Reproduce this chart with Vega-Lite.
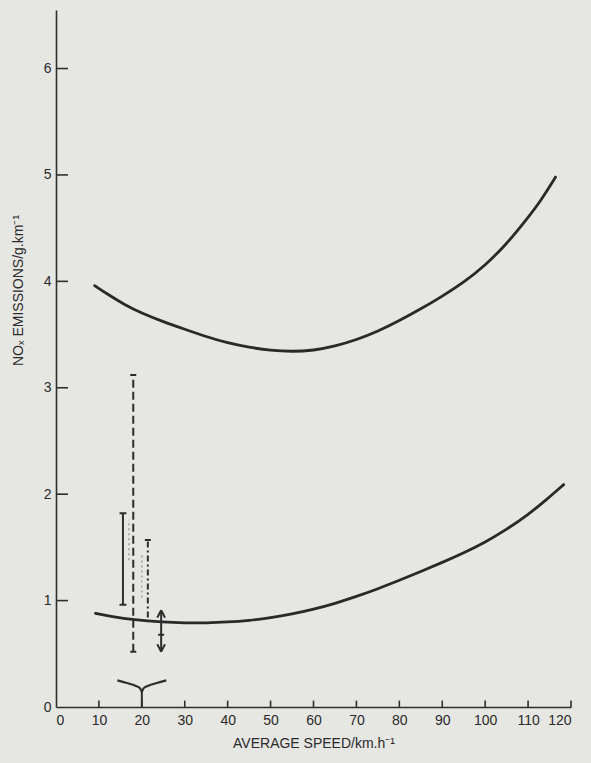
{
  "$schema": "https://vega.github.io/schema/vega-lite/v6.json",
  "width": 515,
  "height": 697,
  "autosize": {"type": "none"},
  "padding": {"left": 56, "top": 10, "right": 20, "bottom": 56},
  "background": "#e6e6e3",
  "config": {
    "view": {"stroke": null},
    "font": "Liberation Sans",
    "axis": {
      "grid": false,
      "ticks": false,
      "domainColor": "#2e302f",
      "domainWidth": 1.6,
      "labelColor": "#2a2a2a",
      "labelFontSize": 14,
      "labelFont": "Liberation Sans",
      "titleFont": "Liberation Sans",
      "titleFontSize": 14,
      "titleFontWeight": "normal",
      "titleColor": "#2a2a2a"
    }
  },
  "datasets": {
    "curves": [
      {"s": 9, "v": 3.96, "c": "upper"}, {"s": 12, "v": 3.88, "c": "upper"}, {"s": 16, "v": 3.78, "c": "upper"},
      {"s": 20, "v": 3.7, "c": "upper"}, {"s": 25, "v": 3.62, "c": "upper"}, {"s": 30, "v": 3.55, "c": "upper"},
      {"s": 35, "v": 3.48, "c": "upper"}, {"s": 40, "v": 3.42, "c": "upper"}, {"s": 45, "v": 3.38, "c": "upper"},
      {"s": 50, "v": 3.35, "c": "upper"}, {"s": 55, "v": 3.34, "c": "upper"}, {"s": 60, "v": 3.35, "c": "upper"},
      {"s": 65, "v": 3.39, "c": "upper"}, {"s": 70, "v": 3.45, "c": "upper"}, {"s": 75, "v": 3.53, "c": "upper"},
      {"s": 80, "v": 3.63, "c": "upper"}, {"s": 85, "v": 3.74, "c": "upper"}, {"s": 90, "v": 3.86, "c": "upper"},
      {"s": 95, "v": 3.99, "c": "upper"}, {"s": 100, "v": 4.15, "c": "upper"}, {"s": 105, "v": 4.35, "c": "upper"},
      {"s": 110, "v": 4.6, "c": "upper"}, {"s": 113, "v": 4.76, "c": "upper"}, {"s": 116.4, "v": 4.98, "c": "upper"},
      {"s": 9.2, "v": 0.88, "c": "lower"}, {"s": 13, "v": 0.85, "c": "lower"}, {"s": 18, "v": 0.82, "c": "lower"},
      {"s": 25, "v": 0.797, "c": "lower"}, {"s": 30, "v": 0.79, "c": "lower"}, {"s": 35, "v": 0.79, "c": "lower"},
      {"s": 40, "v": 0.798, "c": "lower"}, {"s": 45, "v": 0.813, "c": "lower"}, {"s": 50, "v": 0.838, "c": "lower"},
      {"s": 55, "v": 0.873, "c": "lower"}, {"s": 60, "v": 0.918, "c": "lower"}, {"s": 65, "v": 0.973, "c": "lower"},
      {"s": 70, "v": 1.038, "c": "lower"}, {"s": 75, "v": 1.11, "c": "lower"}, {"s": 80, "v": 1.19, "c": "lower"},
      {"s": 85, "v": 1.273, "c": "lower"}, {"s": 90, "v": 1.358, "c": "lower"}, {"s": 95, "v": 1.448, "c": "lower"},
      {"s": 100, "v": 1.548, "c": "lower"}, {"s": 105, "v": 1.668, "c": "lower"}, {"s": 110, "v": 1.808, "c": "lower"},
      {"s": 114, "v": 1.938, "c": "lower"}, {"s": 118.3, "v": 2.09, "c": "lower"}
    ],
    "xticks": [{"t": 10}, {"t": 20}, {"t": 30}, {"t": 40}, {"t": 50}, {"t": 60}, {"t": 70}, {"t": 80}, {"t": 90}, {"t": 100}, {"t": 110}, {"t": 120}],
    "yticks": [{"t": 1}, {"t": 2}, {"t": 3}, {"t": 4}, {"t": 5}, {"t": 6}],
    "segs": [
      {"x1": 15.6, "x2": 15.6, "y1": 0.96, "y2": 1.82, "k": "solid"},
      {"x1": 14.8, "x2": 16.4, "y1": 1.82, "y2": 1.82, "k": "solid"},
      {"x1": 14.8, "x2": 16.4, "y1": 0.96, "y2": 0.96, "k": "solid"},
      {"x1": 18, "x2": 18, "y1": 0.52, "y2": 3.12, "k": "dashed"},
      {"x1": 17.3, "x2": 18.7, "y1": 3.12, "y2": 3.12, "k": "solid"},
      {"x1": 17.3, "x2": 18.7, "y1": 0.52, "y2": 0.52, "k": "solid"},
      {"x1": 21.4, "x2": 21.4, "y1": 0.84, "y2": 1.57, "k": "dashdot"},
      {"x1": 20.7, "x2": 22.1, "y1": 1.57, "y2": 1.57, "k": "solid"},
      {"x1": 24.5, "x2": 24.5, "y1": 0.53, "y2": 0.9, "k": "solid"},
      {"x1": 23.6, "x2": 24.5, "y1": 0.84, "y2": 0.91, "k": "solid"},
      {"x1": 25.4, "x2": 24.5, "y1": 0.84, "y2": 0.91, "k": "solid"},
      {"x1": 23.6, "x2": 24.5, "y1": 0.59, "y2": 0.52, "k": "solid"},
      {"x1": 25.4, "x2": 24.5, "y1": 0.59, "y2": 0.52, "k": "solid"},
      {"x1": 23.8, "x2": 25.2, "y1": 0.68, "y2": 0.68, "k": "solid"},
      {"x1": 20, "x2": 20, "y1": 0, "y2": 0.15, "k": "solid"}
    ],
    "faint": [
      {"x1": 17, "x2": 17, "y1": 1.38, "y2": 1.76},
      {"x1": 20, "x2": 20, "y1": 1.03, "y2": 1.45}
    ],
    "brace": [
      {"s": 14.3, "v": 0.25, "o": 1}, {"s": 16.5, "v": 0.225, "o": 2}, {"s": 18.5, "v": 0.2, "o": 3},
      {"s": 19.6, "v": 0.175, "o": 4}, {"s": 20, "v": 0.145, "o": 5}, {"s": 20.4, "v": 0.175, "o": 6},
      {"s": 21.5, "v": 0.2, "o": 7}, {"s": 23.5, "v": 0.225, "o": 8}, {"s": 25.7, "v": 0.25, "o": 9}
    ]
  },
  "layer": [
    {
      "data": {"name": "curves"},
      "mark": {"type": "line", "interpolate": "basis", "stroke": "#262a29", "strokeWidth": 2.8, "strokeCap": "round"},
      "encoding": {
        "x": {"field": "s", "type": "quantitative", "scale": {"domain": [0, 120], "nice": false},
          "axis": {"values": [0,10,20,30,40,50,60,70,80,90,100,110,120], "format": "d", "labelPadding": 6, "title": "AVERAGE SPEED/km.h⁻¹", "titlePadding": 9}},
        "y": {"field": "v", "type": "quantitative", "scale": {"domain": [0, 6.55], "nice": false},
          "axis": {"values": [0,1,2,3,4,5,6], "format": "d", "labelPadding": 5, "title": "NOₓ EMISSIONS/g.km⁻¹", "titleX": -31, "titleY": 280}},
        "detail": {"field": "c"}
      }
    },
    {
      "data": {"name": "yticks"},
      "mark": {"type": "rule", "stroke": "#2e302f", "strokeWidth": 1.6},
      "encoding": {
        "x": {"datum": 0, "type": "quantitative"},
        "x2": {"datum": 2.8},
        "y": {"field": "t", "type": "quantitative"}
      }
    },
    {
      "data": {"name": "xticks"},
      "mark": {"type": "rule", "stroke": "#2e302f", "strokeWidth": 1.6},
      "encoding": {
        "x": {"field": "t", "type": "quantitative"},
        "y": {"datum": 0, "type": "quantitative"},
        "y2": {"datum": 0.06}
      }
    },
    {
      "data": {"name": "segs"},
      "mark": {"type": "rule", "stroke": "#2b2e2d", "strokeWidth": 2},
      "encoding": {
        "x": {"field": "x1", "type": "quantitative"},
        "x2": {"field": "x2"},
        "y": {"field": "y1", "type": "quantitative"},
        "y2": {"field": "y2"},
        "strokeDash": {"field": "k", "type": "nominal", "legend": null,
          "scale": {"domain": ["solid", "dashed", "dashdot"], "range": [[1, 0], [8, 4], [6, 3, 2, 3]]}}
      }
    },
    {
      "data": {"name": "faint"},
      "mark": {"type": "rule", "stroke": "#8a8d8b", "strokeWidth": 1.2, "strokeDash": [2, 3]},
      "encoding": {
        "x": {"field": "x1", "type": "quantitative"},
        "x2": {"field": "x2"},
        "y": {"field": "y1", "type": "quantitative"},
        "y2": {"field": "y2"}
      }
    },
    {
      "data": {"name": "brace"},
      "mark": {"type": "line", "stroke": "#2b2e2d", "strokeWidth": 2.2, "interpolate": "monotone"},
      "encoding": {
        "x": {"field": "s", "type": "quantitative"},
        "y": {"field": "v", "type": "quantitative"},
        "order": {"field": "o"}
      }
    }
  ]
}
